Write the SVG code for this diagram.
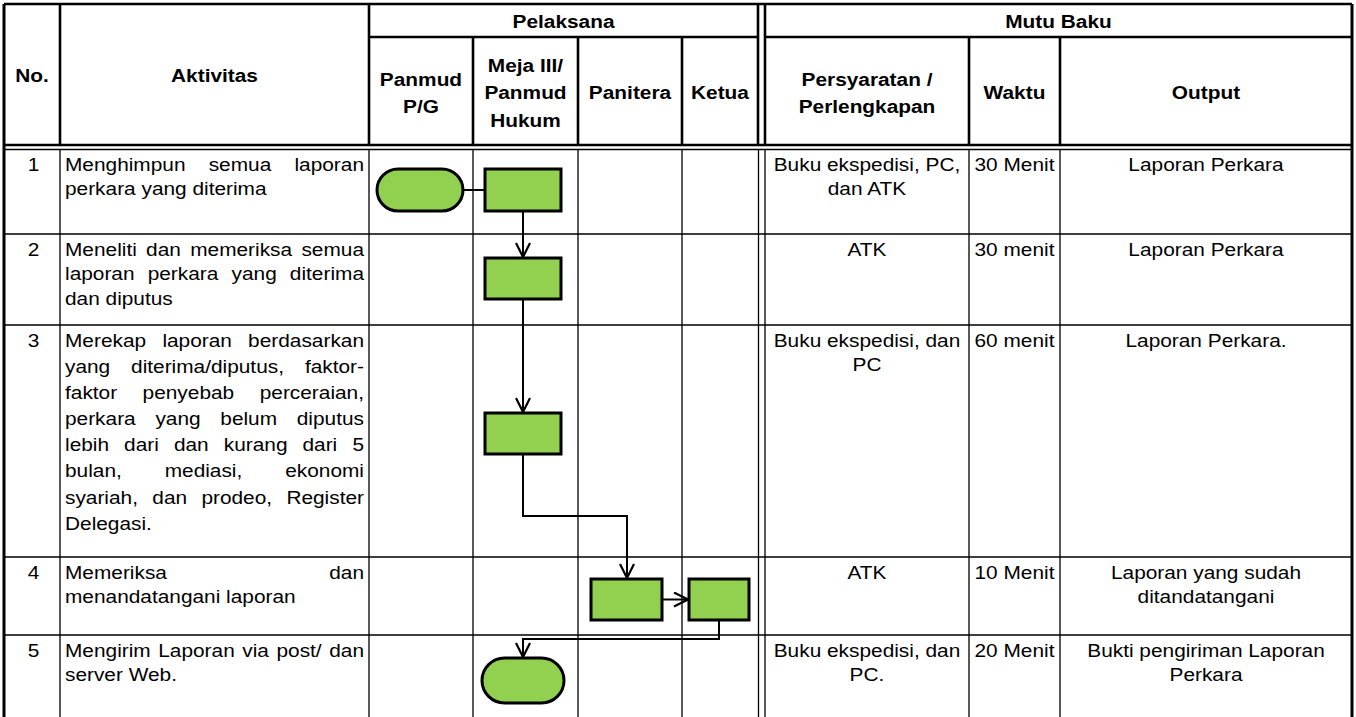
<svg xmlns="http://www.w3.org/2000/svg" width="1356" height="717" viewBox="0 0 1356 717">
<style>
.bg{fill:#ffffff}
.thk{stroke:#000;stroke-width:2.6;fill:none}
.thn{stroke:#000;stroke-width:1.3;fill:none}
.sh{fill:#92D050;stroke:#000;stroke-width:3}
.cn{stroke:#000;stroke-width:2;fill:none}
text{font-family:"Liberation Sans",Arial,sans-serif;font-size:18.7px;fill:#000}
.b{font-weight:bold}
.m{text-anchor:middle}
.e{text-anchor:end}
</style>
<defs>
<marker id="ah" viewBox="0 0 16 16" refX="15" refY="8" markerWidth="16" markerHeight="16" markerUnits="userSpaceOnUse" orient="auto">
<path d="M1 1 L15 8 L1 15" fill="none" stroke="#000" stroke-width="2.2"/>
</marker>
</defs>
<rect class="bg" x="0" y="0" width="1356" height="717"/>
<g id="grid">
<path class="thk" d="M4 4 H1352 M369 37 H758 M765 37 H1352 M4 145 H1352"/>
<path class="thk" d="M60 4 V145 M369 4 V145 M473 37 V145 M578 37 V145 M682 37 V145 M758 4 V145 M765 4 V145 M969 37 V145 M1060 37 V145"/>
<path class="thk" d="M4 4 V717 M1352 4 V717" style="stroke-width:3"/>
<path class="thn" d="M4 149.5 H1352 M4 234 H1352 M4 325 H1352 M4 557 H1352 M4 635 H1352"/>
<path class="thn" d="M60 149 V717 M369 149 V717 M473 149 V717 M578 149 V717 M682 149 V717 M758.5 149 V717 M765 149 V717 M969 149 V717 M1060 149 V717"/>
</g>
<g id="connectors">
<path class="cn" d="M463 190 H485"/>
<path class="cn" d="M523 211 V257" marker-end="url(#ah)"/>
<path class="cn" d="M523 299 V412" marker-end="url(#ah)"/>
<path class="cn" d="M523 454 V516 H627 V578" marker-end="url(#ah)"/>
<path class="cn" d="M662 599.5 H688" marker-end="url(#ah)"/>
<path class="cn" d="M719 620 V639 H523 V657" marker-end="url(#ah)"/>
</g>
<g id="start"><rect class="sh" x="377" y="169" width="86" height="42" rx="21" ry="21"/></g>
<g id="p1"><rect class="sh" x="485" y="169" width="76" height="42"/></g>
<g id="p2"><rect class="sh" x="485" y="258" width="76" height="41"/></g>
<g id="p3"><rect class="sh" x="485" y="413" width="76" height="41"/></g>
<g id="p4"><rect class="sh" x="591" y="579" width="71" height="41"/></g>
<g id="p5"><rect class="sh" x="689" y="579" width="60" height="41"/></g>
<g id="end"><rect class="sh" x="482" y="658" width="82" height="45" rx="22.5" ry="22.5"/></g>
<g id="texts" transform="scale(1.115 1)">
<text class="b m" x="505.38" y="27.7">Pelaksana</text>
<text class="b m" x="949.33" y="27.7">Mutu Baku</text>
<text class="b m" x="28.7" y="82.5">No.</text>
<text class="b m" x="192.38" y="82.5">Aktivitas</text>
<text class="b m" x="377.58" y="85.7">Panmud</text>
<text class="b m" x="377.58" y="113.4">P/G</text>
<text class="b m" x="471.3" y="71.7">Meja III/</text>
<text class="b m" x="471.3" y="99.2">Panmud</text>
<text class="b m" x="471.3" y="126.7">Hukum</text>
<text class="b m" x="565.02" y="99.4">Panitera</text>
<text class="b m" x="645.74" y="99.4">Ketua</text>
<text class="b m" x="777.58" y="86">Persyaratan /</text>
<text class="b m" x="777.58" y="113.4">Perlengkapan</text>
<text class="b m" x="909.87" y="99.4">Waktu</text>
<text class="b m" x="1081.61" y="99.4">Output</text>
<text class="m" x="30.04" y="170.7">1</text>
<text class="m" x="30.04" y="255.7">2</text>
<text class="m" x="30.04" y="346.7">3</text>
<text class="m" x="30.04" y="578.7">4</text>
<text class="m" x="30.04" y="656.7">5</text>
<text x="58.3" y="170.7">Menghimpun</text>
<text x="187.17" y="170.7">semua</text>
<text class="e" x="326.46" y="170.7">laporan</text>
<text x="58.3" y="195.5">perkara yang diterima</text>
<text x="58.3" y="255.7">Meneliti</text>
<text x="131.03" y="255.7">dan</text>
<text x="170.58" y="255.7">memeriksa</text>
<text class="e" x="326.46" y="255.7">semua</text>
<text x="58.3" y="280.5">laporan</text>
<text x="132.47" y="280.5">perkara</text>
<text x="207.71" y="280.5">yang</text>
<text class="e" x="326.46" y="280.5">diterima</text>
<text x="58.3" y="305.3">dan diputus</text>
<text x="58.3" y="346.7">Merekap</text>
<text x="145.65" y="346.7">laporan</text>
<text class="e" x="326.46" y="346.7">berdasarkan</text>
<text x="58.3" y="372.8">yang</text>
<text x="117.53" y="372.8">diterima/diputus,</text>
<text class="e" x="326.46" y="372.8">faktor-</text>
<text x="58.3" y="399">faktor</text>
<text x="127.89" y="399">penyebab</text>
<text class="e" x="326.46" y="399">perceraian,</text>
<text x="58.3" y="425.1">perkara</text>
<text x="139.37" y="425.1">yang</text>
<text x="197.58" y="425.1">belum</text>
<text class="e" x="326.46" y="425.1">diputus</text>
<text x="58.3" y="451.3">lebih</text>
<text x="111.26" y="451.3">dari</text>
<text x="155.96" y="451.3">dan</text>
<text x="200.72" y="451.3">kurang</text>
<text x="271.3" y="451.3">dari</text>
<text class="e" x="326.46" y="451.3">5</text>
<text x="58.3" y="477.4">bulan,</text>
<text x="147.71" y="477.4">mediasi,</text>
<text class="e" x="326.46" y="477.4">ekonomi</text>
<text x="58.3" y="503.6">syariah,</text>
<text x="136.59" y="503.6">dan</text>
<text x="180.63" y="503.6">prodeo,</text>
<text class="e" x="326.46" y="503.6">Register</text>
<text x="58.3" y="529.7">Delegasi.</text>
<text x="58.3" y="578.7">Memeriksa</text>
<text class="e" x="326.46" y="578.7">dan</text>
<text x="58.3" y="603.5">menandatangani laporan</text>
<text x="58.3" y="656.7">Mengirim</text>
<text x="141.93" y="656.7">Laporan</text>
<text x="217.31" y="656.7">via</text>
<text x="247.94" y="656.7">post/</text>
<text class="e" x="326.46" y="656.7">dan</text>
<text x="58.3" y="681.5">server Web.</text>
<text class="m" x="777.58" y="170.7">Buku ekspedisi, PC,</text>
<text class="m" x="777.58" y="195.5">dan ATK</text>
<text class="m" x="777.58" y="255.7">ATK</text>
<text class="m" x="777.58" y="346.7">Buku ekspedisi, dan</text>
<text class="m" x="777.58" y="371.5">PC</text>
<text class="m" x="777.58" y="578.7">ATK</text>
<text class="m" x="777.58" y="656.7">Buku ekspedisi, dan</text>
<text class="m" x="777.58" y="681.5">PC.</text>
<text class="m" x="909.87" y="170.7">30 Menit</text>
<text class="m" x="909.87" y="255.7">30 menit</text>
<text class="m" x="909.87" y="346.7">60 menit</text>
<text class="m" x="909.87" y="578.7">10 Menit</text>
<text class="m" x="909.87" y="656.7">20 Menit</text>
<text class="m" x="1081.61" y="170.7">Laporan Perkara</text>
<text class="m" x="1081.61" y="255.7">Laporan Perkara</text>
<text class="m" x="1081.61" y="346.7">Laporan Perkara.</text>
<text class="m" x="1081.61" y="578.7">Laporan yang sudah</text>
<text class="m" x="1081.61" y="603.5">ditandatangani</text>
<text class="m" x="1081.61" y="656.7">Bukti pengiriman Laporan</text>
<text class="m" x="1081.61" y="681.5">Perkara</text>
</g>
</svg>
